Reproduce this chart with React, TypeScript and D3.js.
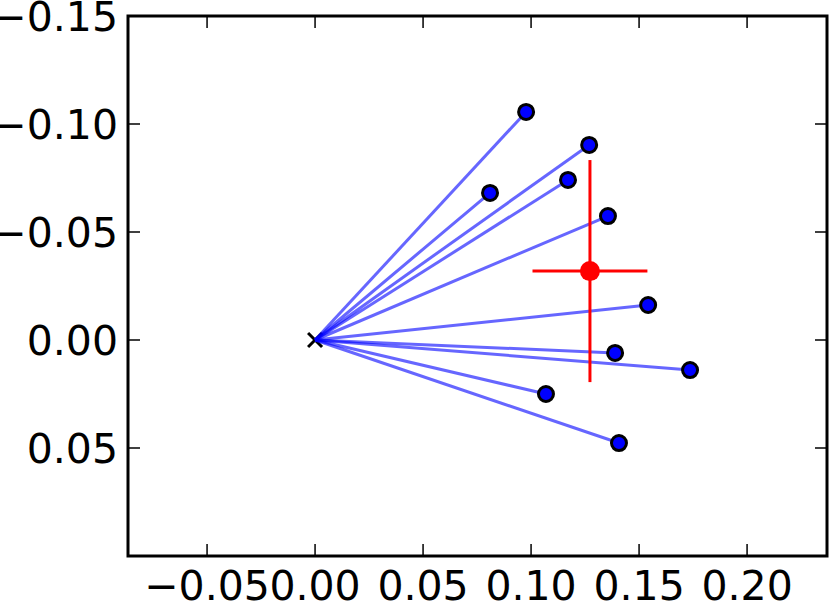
import React from "react";
import * as d3 from "d3";

// sample points (x, y) — lines drawn from origin to each
const xs = [0.0977, 0.1269, 0.081, 0.1171, 0.1356, 0.1542, 0.1389, 0.1736, 0.1069, 0.1407];
const ys = [-0.1056, -0.0903, -0.0681, -0.0741, -0.0574, -0.0162, 0.006, 0.0139, 0.025, 0.0477];

// mean and its error bars
const meanX = d3.mean(xs) as number;
const meanY = d3.mean(ys) as number;
const errX = 0.0266;
const errY = 0.0514;

const xTicks = [-0.05, 0, 0.05, 0.1, 0.15, 0.2];
const yTicks = [-0.15, -0.1, -0.05, 0, 0.05];

const width = 830;
const height = 602;
const left = 128;
const right = 827;
const top = 16;
const bottom = 556;

const fmt = (v: number) => {
  const s = Math.abs(v).toFixed(2);
  return v < -1e-9 ? "\u2212" + s : s;
};

const App = () => {
  const x = d3.scaleLinear().domain([-0.0866, 0.2370]).range([left, right]);
  const y = d3.scaleLinear().domain([-0.15, 0.1]).range([top, bottom]);

  const font = "DejaVu Sans";
  const tickLen = 12;

  return (
    <svg
      width={width}
      height={height}
      style={{ position: "absolute", left: 0, top: 0, background: "#fff" }}
    >
      {/* origin marker */}
      <g stroke="#000" strokeWidth={3}>
        <line x1={x(0) - 7} y1={y(0) - 7} x2={x(0) + 7} y2={y(0) + 7} />
        <line x1={x(0) - 7} y1={y(0) + 7} x2={x(0) + 7} y2={y(0) - 7} />
      </g>

      {/* lines from origin */}
      {xs.map((v, i) => (
        <line
          key={"l" + i}
          x1={x(0)}
          y1={y(0)}
          x2={x(v)}
          y2={y(ys[i])}
          stroke="blue"
          strokeOpacity={0.6}
          strokeWidth={3}
        />
      ))}

      {/* points */}
      {xs.map((v, i) => (
        <circle
          key={"p" + i}
          cx={x(v)}
          cy={y(ys[i])}
          r={7.5}
          fill="blue"
          stroke="#000"
          strokeWidth={3}
        />
      ))}

      {/* mean with error bars */}
      <g stroke="red" strokeWidth={3}>
        <line x1={x(meanX - errX)} y1={y(meanY)} x2={x(meanX + errX)} y2={y(meanY)} />
        <line x1={x(meanX)} y1={y(meanY - errY)} x2={x(meanX)} y2={y(meanY + errY)} />
      </g>
      <circle cx={x(meanX)} cy={y(meanY)} r={10} fill="red" />

      {/* frame */}
      <rect
        x={left}
        y={top}
        width={right - left}
        height={bottom - top}
        fill="none"
        stroke="#000"
        strokeWidth={3}
      />

      {/* x ticks */}
      {xTicks.map((t) => (
        <g key={"xt" + t}>
          <line x1={x(t)} x2={x(t)} y1={bottom} y2={bottom - tickLen} stroke="#000" strokeWidth={1.5} />
          <line x1={x(t)} x2={x(t)} y1={top} y2={top + tickLen} stroke="#000" strokeWidth={1.5} />
          <text
            x={x(t)}
            y={600}
            textAnchor="middle"
            fontFamily={font}
            fontSize={41}
            fill="#000"
          >
            {fmt(t)}
          </text>
        </g>
      ))}

      {/* y ticks */}
      {yTicks.map((t) => (
        <g key={"yt" + t}>
          <line x1={left} x2={left + tickLen} y1={y(t)} y2={y(t)} stroke="#000" strokeWidth={1.5} />
          <line x1={right} x2={right - tickLen} y1={y(t)} y2={y(t)} stroke="#000" strokeWidth={1.5} />
          <text
            x={118}
            y={y(t) + 15}
            textAnchor="end"
            fontFamily={font}
            fontSize={41}
            fill="#000"
          >
            {fmt(t)}
          </text>
        </g>
      ))}
    </svg>
  );
};

export default App;
